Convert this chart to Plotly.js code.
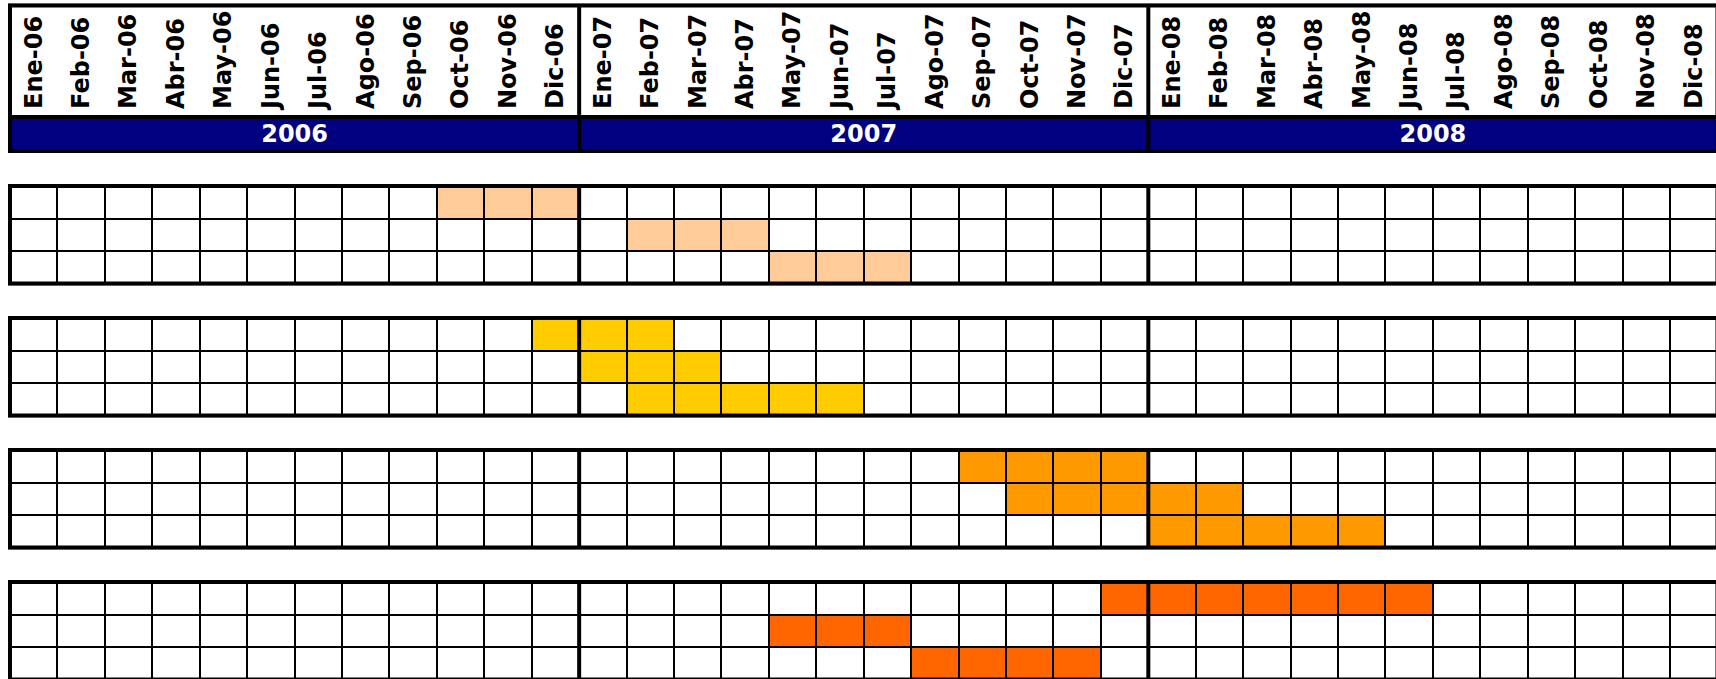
<!DOCTYPE html>
<html><head><meta charset="utf-8">
<script src="https://cdn.plot.ly/plotly-3.0.1.min.js"></script>
<style>html,body{margin:0;padding:0;background:#fff;}#chart{width:1716px;height:679px;}</style>
</head><body><div id="chart"></div>
<script>
// ---- data ----
const months = ["Ene-06","Feb-06","Mar-06","Abr-06","May-06","Jun-06","Jul-06","Ago-06","Sep-06","Oct-06","Nov-06","Dic-06",
                "Ene-07","Feb-07","Mar-07","Abr-07","May-07","Jun-07","Jul-07","Ago-07","Sep-07","Oct-07","Nov-07","Dic-07",
                "Ene-08","Feb-08","Mar-08","Abr-08","May-08","Jun-08","Jul-08","Ago-08","Sep-08","Oct-08","Nov-08","Dic-08"];
const years = ["2006","2007","2008"];
const groupColors = ["#FFCC99","#FFCC00","#FF9900","#FF6600"];
const group1Spans = [["Oct-06","Dic-06"],["Feb-07","Abr-07"],["May-07","Jul-07"]];
const group2Spans = [["Dic-06","Feb-07"],["Ene-07","Mar-07"],["Feb-07","Jun-07"]];
const group3Spans = [["Sep-07","Dic-07"],["Oct-07","Feb-08"],["Ene-08","May-08"]];
const group4Spans = [["Dic-07","Jun-08"],["May-07","Jul-07"],["Ago-07","Nov-07"]];
const groups = [group1Spans, group2Spans, group3Spans, group4Spans];

// ---- layout geometry (pixels) ----
const W = 1716, H = 679;
const L = 10, colW = 47.43, pad = 2;
const headerTop = 5.5, headerBottom = 117, bandBottom = 151;
const groupTop0 = 186, groupStep = 132, rowH = 32.5;
const yP = px => Math.max(0, Math.min(1, 1 - px / H));
const FONT = "DejaVu Sans";
const nM = months.length;
const perYear = nM / years.length;
const idx = months.map((m, i) => i);
const yearCenters = years.map((y, i) => i * perYear + (perYear - 1) / 2);
const yearBounds = years.slice(1).map((y, i) => (i + 1) * perYear - 0.5);

const traces = [];
const layout = {
  width: W, height: H,
  margin: {l: 0, r: 0, t: 0, b: 0, pad: 0},
  paper_bgcolor: "#FFFFFF", plot_bgcolor: "#000000",
  showlegend: false, bargap: 0,
  font: {family: FONT, color: "#000000"},
  xaxis: {
    domain: [(L - pad) / W, 1],
    range: [-0.5 - pad / colW, -0.5 + (W - L) / colW],
    anchor: "y2", side: "top",
    tickmode: "array", tickvals: idx, ticktext: months,
    tickangle: -90, ticks: "", ticklabelstandoff: 5,
    tickfont: {family: FONT, size: 24, color: "#000000", weight: "bold"},
    showgrid: false, zeroline: false, showline: false, fixedrange: true
  },
  shapes: []
};
const line4 = {color: "#000000", width: 4};

// header (white box)
layout.yaxis = {domain: [yP(headerBottom), yP(headerTop - pad)],
  range: [0, 1 + pad / (headerBottom - headerTop)], visible: false, fixedrange: true};
traces.push({type: "bar", x: yearCenters, y: years.map(() => 1), width: years.map(() => perYear),
  marker: {color: "#FFFFFF", line: {width: 0}}, yaxis: "y", hoverinfo: "skip"});
layout.shapes.push({type: "rect", xref: "x", yref: "y", x0: -0.5, x1: nM - 0.5, y0: 0, y1: 1, line: line4, layer: "above"});
yearBounds.forEach(b => layout.shapes.push({type: "line", xref: "x", yref: "y", x0: b, x1: b, y0: 0, y1: 1, line: line4}));

// year band
const bandSpan = bandBottom - headerBottom;
layout.yaxis2 = {domain: [yP(bandBottom + pad), yP(headerBottom - pad)],
  range: [-pad / bandSpan, 1 + pad / bandSpan], visible: false, fixedrange: true};
traces.push({type: "bar", x: yearCenters, y: years.map(() => 1), width: years.map(() => perYear),
  text: years, textposition: "inside", insidetextanchor: "middle", textangle: 0, constraintext: "none",
  textfont: {family: FONT, size: 24, color: "#FFFFFF", weight: "bold"},
  marker: {color: "#000080", line: {width: 0}}, yaxis: "y2", hoverinfo: "skip"});
layout.shapes.push({type: "rect", xref: "x", yref: "y2", x0: -0.5, x1: nM - 0.5, y0: 0, y1: 1, line: line4, layer: "above"});
yearBounds.forEach(b => layout.shapes.push({type: "line", xref: "x", yref: "y2", x0: b, x1: b, y0: 0, y1: 1, line: line4}));

// groups
groups.forEach((spans, g) => {
  const axNum = g + 3;
  const top = groupTop0 + g * groupStep;
  const nRows = spans.length;
  const bot = top + nRows * rowH;
  const botPx = Math.min(bot + pad, H);
  layout["yaxis" + axNum] = {domain: [yP(botPx), yP(top - pad)],
    range: [-0.5 + (botPx - top) / rowH, -0.5 - pad / rowH], visible: false, fixedrange: true};
  const z = spans.map(([s, e]) => {
    const a = months.indexOf(s), b = months.indexOf(e);
    return idx.map(i => (i >= a && i <= b) ? 1 : 0);
  });
  traces.push({type: "heatmap", x: idx, y: spans.map((s, r) => r), z: z,
    zmin: 0, zmax: 1, colorscale: [[0, "#FFFFFF"], [1, groupColors[g]]], showscale: false,
    xgap: 2, ygap: 2, yaxis: "y" + axNum, hoverinfo: "skip"});
  const yr = "y" + axNum;
  layout.shapes.push({type: "rect", xref: "x", yref: yr, x0: -0.5, x1: nM - 0.5, y0: -0.5, y1: nRows - 0.5, line: line4, layer: "above"});
  yearBounds.forEach(b => layout.shapes.push({type: "line", xref: "x", yref: yr, x0: b, x1: b, y0: -0.5, y1: nRows - 0.5, line: line4}));
});

Plotly.newPlot("chart", traces, layout, {staticPlot: true, displayModeBar: false});
</script>
</body></html>
